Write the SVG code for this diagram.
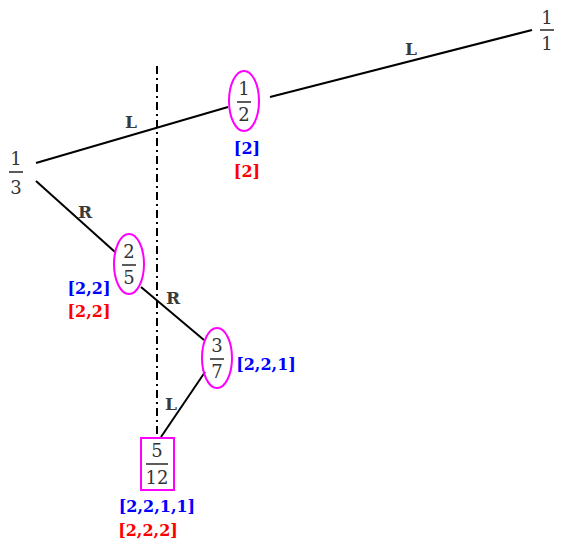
<svg xmlns="http://www.w3.org/2000/svg" width="564" height="554" viewBox="0 0 564 554">
<style>
.num{font-family:"DejaVu Serif","Liberation Serif",serif;font-size:18px;fill:#333;text-anchor:middle}
.bar{stroke:#333;stroke-width:1.6}
.edge{stroke:#000;stroke-width:2;fill:none}
.lab{font-family:"DejaVu Serif","Liberation Serif",serif;font-size:17px;font-weight:bold;fill:#3a3a3a;text-anchor:middle}
.blue{font-family:"DejaVu Serif","Liberation Serif",serif;font-size:16px;font-weight:bold;fill:#0000ff;text-anchor:middle}
.red{font-family:"DejaVu Serif","Liberation Serif",serif;font-size:16px;font-weight:bold;fill:#ff0000;text-anchor:middle}
.ring{fill:none;stroke:#ff00ff;stroke-width:2}
</style>
<rect width="564" height="554" fill="#fff"/>
<line x1="157" y1="66" x2="157" y2="434" stroke="#000" stroke-width="2" stroke-dasharray="8,4,2,4"/>
<g id="connectors">
<line class="edge" x1="532" y1="30" x2="270" y2="97"/>
<line class="edge" x1="228" y1="107" x2="36" y2="163"/>
<line class="edge" x1="36" y1="181" x2="115" y2="252"/>
<line class="edge" x1="141" y1="287" x2="204" y2="340"/>
<line class="edge" x1="205" y1="372" x2="161" y2="437"/>
<text class="lab" x="411" y="55">L</text>
<text class="lab" x="131" y="128">L</text>
<text class="lab" x="85" y="218">R</text>
<text class="lab" x="173" y="304">R</text>
<text class="lab" x="171" y="410">L</text>
</g>
<g id="n11">
<text class="num" x="547" y="24">1</text>
<line class="bar" x1="540" y1="30" x2="554" y2="30"/>
<text class="num" x="547" y="50">1</text>
</g>
<g id="n12">
<ellipse class="ring" cx="244" cy="101" rx="15" ry="30"/>
<text class="num" x="244" y="95">1</text>
<line class="bar" x1="237" y1="102" x2="251" y2="102"/>
<text class="num" x="244" y="121">2</text>
<text class="blue" x="247" y="154">[2]</text>
<text class="red" x="247" y="177">[2]</text>
</g>
<g id="n13">
<text class="num" x="16" y="165">1</text>
<line class="bar" x1="9" y1="172" x2="23" y2="172"/>
<text class="num" x="16" y="194">3</text>
</g>
<g id="n25">
<ellipse class="ring" cx="129" cy="264" rx="15" ry="30"/>
<text class="num" x="129" y="258">2</text>
<line class="bar" x1="122" y1="265" x2="136" y2="265"/>
<text class="num" x="129" y="284">5</text>
<text class="blue" x="89" y="294">[2,2]</text>
<text class="red" x="89" y="317">[2,2]</text>
</g>
<g id="n37">
<ellipse class="ring" cx="217" cy="358" rx="15" ry="30"/>
<text class="num" x="217" y="352">3</text>
<line class="bar" x1="210" y1="359" x2="224" y2="359"/>
<text class="num" x="217" y="378">7</text>
<text class="blue" x="266" y="370">[2,2,1]</text>
</g>
<g id="n512">
<rect x="141" y="438" width="33" height="52" fill="none" stroke="#ff00ff" stroke-width="2"/>
<text class="num" x="157" y="457">5</text>
<line class="bar" x1="146" y1="464" x2="168" y2="464"/>
<text class="num" x="157" y="484">12</text>
<text class="blue" x="157" y="512">[2,2,1,1]</text>
<text class="red" x="148" y="536">[2,2,2]</text>
</g>
</svg>
